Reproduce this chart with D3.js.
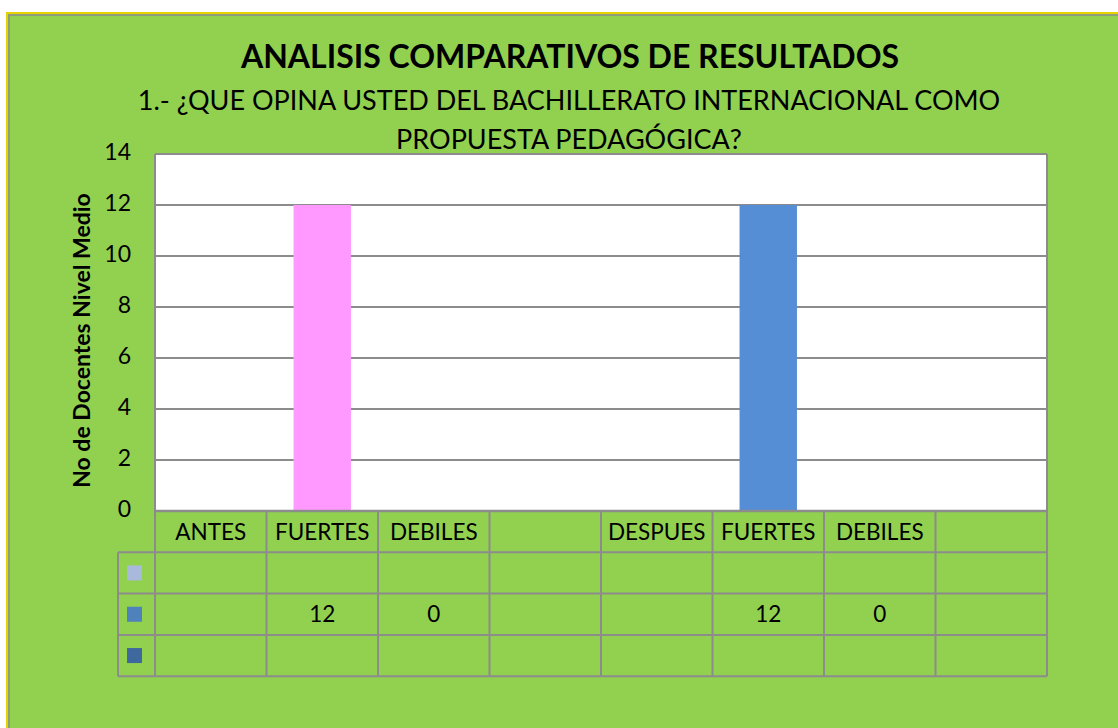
<!DOCTYPE html>
<html>
<head>
<meta charset="utf-8">
<script src="https://cdn.jsdelivr.net/npm/d3@7"></script>
<style>
  html, body { margin:0; padding:0; background:#fff; }
  svg text { font-family: Lato, "Open Sans", sans-serif; fill:#000; }
</style>
</head>
<body>
<svg id="chart" width="1118" height="728"></svg>
<script>
// data
var categories = ["ANTES", "FUERTES", "DEBILES", "", "DESPUES", "FUERTES", "DEBILES", ""];
var seriesNames = ["s1", "s2", "s3"];
var seriesColors = ["#a9b9dc", "#4f81bd", "#3f689f"];
var s1Values = [null, null, null, null, null, null, null, null];
var s2Values = [null, 12, 0, null, null, 12, 0, null];
var s3Values = [null, null, null, null, null, null, null, null];
var barColors = [null, "#ff99ff", null, null, null, "#558ed5", null, null]; // per-point overrides
var yTicks = [0, 2, 4, 6, 8, 10, 12, 14];

var svg = d3.select("#chart");
var W = 1118, H = 728;

// frame
svg.append("rect").attr("x", 7).attr("y", 13).attr("width", W).attr("height", H)
  .attr("fill", "#92d050").attr("stroke", "#e6d200").attr("stroke-width", 2);
svg.append("rect").attr("x", 9).attr("y", 15).attr("width", W).attr("height", H)
  .attr("fill", "none").attr("stroke", "#8c8c8c").attr("stroke-width", 1.5);

var m = {left: 155, right: 1047, top: 154, bottom: 511};
var x = d3.scaleBand().domain(d3.range(categories.length)).range([m.left, m.right]);
var y = d3.scaleLinear().domain([0, 14]).range([m.bottom, m.top]);
var barW = x.bandwidth() * 0.515; // bars of all series overlap in the middle of the column

// plot area
svg.append("rect").attr("x", m.left).attr("y", m.top).attr("width", m.right - m.left).attr("height", m.bottom - m.top)
  .attr("fill", "#fff");
svg.append("g").selectAll("line").data(yTicks).enter().append("line")
  .attr("x1", m.left).attr("x2", m.right)
  .attr("y1", function(d){ return y(d); }).attr("y2", function(d){ return y(d); })
  .attr("stroke", "#8c8c8c").attr("stroke-width", 2);
svg.append("line").attr("x1", m.left).attr("x2", m.left).attr("y1", m.top).attr("y2", m.bottom)
  .attr("stroke", "#8c8c8c").attr("stroke-width", 2);
svg.append("line").attr("x1", m.right).attr("x2", m.right).attr("y1", m.top).attr("y2", m.bottom)
  .attr("stroke", "#8c8c8c").attr("stroke-width", 2);

// bars
var allSeries = [s1Values, s2Values, s3Values];
allSeries.forEach(function(vals, si){
  var pts = vals.map(function(v, i){ return {i: i, v: v}; }).filter(function(p){ return p.v !== null && p.v > 0; });
  svg.append("g").attr("class", "bars").selectAll("rect").data(pts).enter().append("rect")
    .attr("x", function(p){ return x(p.i) + (x.bandwidth() - barW) / 2; })
    .attr("width", barW)
    .attr("y", function(p){ return y(p.v); })
    .attr("height", function(p){ return y(0) - y(p.v); })
    .attr("fill", function(p){ return barColors[p.i] || seriesColors[si]; });
});

// y axis
var yAxis = d3.axisLeft(y).tickValues(yTicks).tickSize(0).tickPadding(0);
var ga = svg.append("g").attr("transform", "translate(" + (m.left - 24) + ",0)").call(yAxis);
ga.select(".domain").remove();
ga.selectAll("text").attr("font-size", 23).attr("dy", "0.25em")
  .style("font-family", "Lato, sans-serif").attr("fill", "#000");

svg.append("text").attr("transform", "translate(90," + ((m.top + m.bottom) / 2 + 8) + ") rotate(-90)")
  .attr("text-anchor", "middle").attr("font-size", 23).attr("font-weight", "bold")
  .text("No de Docentes Nivel Medio");

// data table
var rowH = 41.3;
var tTop = m.bottom, legendLeft = 118;
var gridColor = "#8c8c8c";
var tb = svg.append("g");
tb.append("line").attr("x1", m.left).attr("x2", m.right).attr("y1", tTop).attr("y2", tTop).attr("stroke", gridColor).attr("stroke-width", 2.5);
for (var r = 1; r <= 4; r++) {
  tb.append("line").attr("x1", legendLeft).attr("x2", m.right)
    .attr("y1", tTop + r * rowH).attr("y2", tTop + r * rowH).attr("stroke", gridColor).attr("stroke-width", 2);
}
tb.append("line").attr("x1", legendLeft).attr("x2", legendLeft).attr("y1", tTop + rowH).attr("y2", tTop + 4 * rowH).attr("stroke", gridColor).attr("stroke-width", 2);
d3.range(categories.length + 1).forEach(function(i){
  var xx = i < categories.length ? x(i) : m.right;
  tb.append("line").attr("x1", xx).attr("x2", xx).attr("y1", tTop).attr("y2", tTop + 4 * rowH)
    .attr("stroke", gridColor).attr("stroke-width", 2);
});
tb.selectAll("text.cat").data(categories).enter().append("text")
  .attr("x", function(d, i){ return x(i) + x.bandwidth() / 2; })
  .attr("y", tTop + rowH / 2 + 8).attr("text-anchor", "middle").attr("font-size", 22.5)
  .text(function(d){ return d; });
allSeries.forEach(function(vals, si){
  var cy = tTop + (si + 1) * rowH + rowH / 2;
  tb.append("rect").attr("x", 127).attr("y", cy - 7.5).attr("width", 15).attr("height", 15).attr("fill", seriesColors[si]);
  tb.selectAll("text.v" + si).data(vals).enter().append("text")
    .attr("x", function(d, i){ return x(i) + x.bandwidth() / 2; })
    .attr("y", cy + 8).attr("text-anchor", "middle").attr("font-size", 22.5)
    .text(function(d){ return d === null ? "" : d; });
});

// titles
svg.append("text").attr("x", 570).attr("y", 68).attr("text-anchor", "middle")
  .attr("font-size", 32).attr("font-weight", "bold").text("ANALISIS COMPARATIVOS DE RESULTADOS");
svg.append("text").attr("x", 569).attr("y", 110).attr("text-anchor", "middle")
  .attr("font-size", 27).text("1.- ¿QUE OPINA USTED DEL BACHILLERATO INTERNACIONAL COMO");
svg.append("text").attr("x", 569).attr("y", 149).attr("text-anchor", "middle")
  .attr("font-size", 27).text("PROPUESTA PEDAGÓGICA?");
</script>
</body>
</html>
